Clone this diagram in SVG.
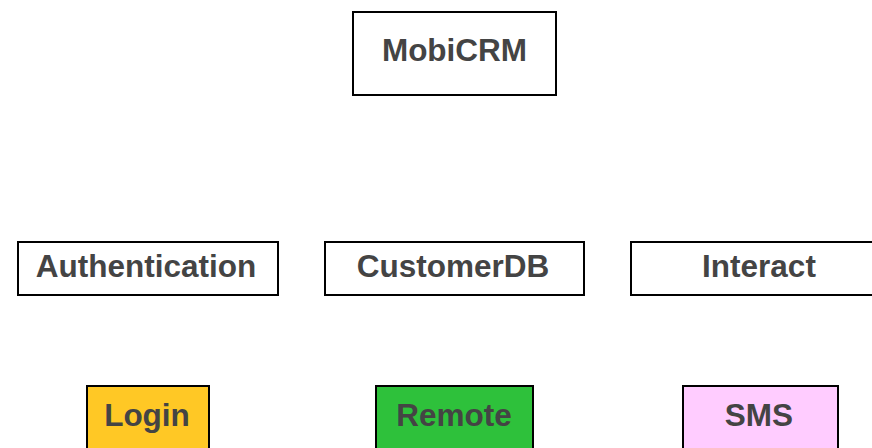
<svg xmlns="http://www.w3.org/2000/svg" width="872" height="448" viewBox="0 0 872 448">
  <style>
    .box { stroke: #000; stroke-width: 2; fill: #fff; }
    .label { font-family: "Liberation Sans", Arial, sans-serif; font-weight: bold; font-size: 31.5px; fill: #444; text-anchor: middle; dominant-baseline: central; }
  </style>
  <rect width="872" height="448" fill="#fff"/>
  <g id="connectors"></g>
  <g id="mobicrm">
    <rect class="box" x="353" y="12" width="203" height="83"/>
    <text class="label" x="454.5" y="50">MobiCRM</text>
  </g>
  <g id="authentication">
    <rect class="box" x="18" y="242" width="260" height="53"/>
    <text class="label" x="146" y="266">Authentication</text>
  </g>
  <g id="customerdb">
    <rect class="box" x="325" y="242" width="259" height="53"/>
    <text class="label" x="453" y="266">CustomerDB</text>
  </g>
  <g id="interact">
    <rect class="box" x="631" y="242" width="260" height="53"/>
    <text class="label" x="759" y="266">Interact</text>
  </g>
  <g id="login">
    <rect class="box" x="87" y="386" width="122" height="80" style="fill:#ffc825"/>
    <text class="label" x="147" y="415">Login</text>
  </g>
  <g id="remote">
    <rect class="box" x="376" y="386" width="157" height="80" style="fill:#2ec13b"/>
    <text class="label" x="454" y="415">Remote</text>
  </g>
  <g id="sms">
    <rect class="box" x="683" y="386" width="155" height="80" style="fill:#ffccff"/>
    <text class="label" x="759" y="415">SMS</text>
  </g>
</svg>
